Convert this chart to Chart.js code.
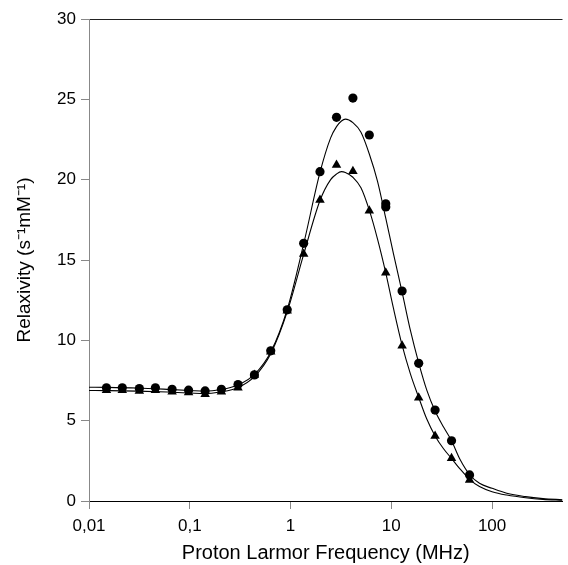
<!DOCTYPE html>
<html>
<head>
<meta charset="utf-8">
<script src="https://cdn.jsdelivr.net/npm/chart.js@4.4.1/dist/chart.umd.min.js"></script>
<style>
html,body{margin:0;padding:0;background:#fff;}
#wrap{width:568px;height:565px;}
</style>
</head>
<body>
<div id="wrap"><canvas id="c" width="568" height="565"></canvas></div>
<script>
// Measured points (frequency in MHz)
const circleFreq = [0.0149, 0.0214, 0.0316, 0.0456, 0.0668, 0.0973, 0.142, 0.206, 0.301, 0.438, 0.636, 0.927, 1.35, 1.96, 2.86, 4.16, 6.05, 8.81, 8.81, 12.8, 18.7, 27.2, 39.6, 59.8];
const circleRelax = [7.05, 7.05, 7.0, 7.05, 6.95, 6.9, 6.85, 6.95, 7.25, 7.85, 9.35, 11.9, 16.04, 20.5, 23.88, 25.08, 22.78, 18.3, 18.5, 13.07, 8.57, 5.66, 3.75, 1.62];
const triangleFreq = [0.0149, 0.0214, 0.0316, 0.0456, 0.0668, 0.0973, 0.142, 0.206, 0.301, 0.438, 0.636, 0.927, 1.35, 1.96, 2.86, 4.16, 6.05, 8.81, 12.8, 18.7, 27.2, 39.6, 59.8];
const triangleRelax = [6.9, 6.9, 6.85, 6.9, 6.8, 6.75, 6.65, 6.8, 7.05, 7.84, 9.29, 11.84, 15.37, 18.73, 20.91, 20.53, 18.07, 14.21, 9.66, 6.43, 4.04, 2.66, 1.31];

// Fitted curves
const fitFreq = [0.01, 0.015, 0.03, 0.06, 0.1, 0.14, 0.2, 0.3, 0.44, 0.64, 0.93, 1.35, 1.96, 2.5, 2.86, 3.2, 3.5, 4.16, 5, 6.05, 7.3, 8.81, 10.5, 12.8, 15.5, 18.7, 22.5, 27.2, 33, 39.6, 48, 59.8, 75, 100, 140, 215, 320, 500];
const fitCircle = [7.08, 7.07, 7.03, 6.95, 6.88, 6.83, 6.92, 7.22, 7.88, 9.3, 11.95, 16.0, 20.45, 22.6, 23.3, 23.65, 23.77, 23.55, 22.95, 21.6, 19.9, 17.6, 15.4, 13.0, 10.6, 8.6, 6.9, 5.6, 4.6, 3.75, 2.6, 1.65, 1.1, 0.79, 0.48, 0.27, 0.15, 0.08];
const fitTriangle = [6.88, 6.87, 6.84, 6.78, 6.72, 6.68, 6.78, 7.05, 7.75, 9.2, 11.8, 15.35, 18.7, 20.0, 20.35, 20.5, 20.45, 20.15, 19.5, 18.1, 16.3, 14.2, 12.0, 9.7, 7.9, 6.45, 5.1, 4.05, 3.25, 2.65, 2.0, 1.35, 0.9, 0.58, 0.37, 0.2, 0.1, 0.05];

const xTickValues = [0.01, 0.1, 1, 10, 100];
const xTickLabels = ['0,01', '0,1', '1', '10', '100'];
const yTickValues = [0, 5, 10, 15, 20, 25, 30];

const pts = (xs, ys) => xs.map((x, i) => ({x: x, y: ys[i]}));
const FONT = 'Liberation Sans, Arial, Helvetica, sans-serif';

new Chart(document.getElementById('c'), {
  type: 'scatter',
  data: {
    datasets: [
      {data: pts(fitFreq, fitCircle), showLine: true, borderColor: '#000', borderWidth: 1.1, pointRadius: 0, cubicInterpolationMode: 'monotone', fill: false, order: 3},
      {data: pts(fitFreq, fitTriangle), showLine: true, borderColor: '#000', borderWidth: 1.1, pointRadius: 0, cubicInterpolationMode: 'monotone', fill: false, order: 3},
      {data: pts(triangleFreq, triangleRelax), showLine: false, pointStyle: 'triangle', pointRadius: 5.5, backgroundColor: '#000', borderColor: '#000', borderWidth: 0, order: 2},
      {data: pts(circleFreq, circleRelax), showLine: false, pointStyle: 'circle', pointRadius: 4.6, backgroundColor: '#000', borderColor: '#000', borderWidth: 0, order: 1}
    ]
  },
  options: {
    responsive: false,
    animation: false,
    events: [],
    layout: {padding: {top: 19, right: 0, left: 0, bottom: 0}},
    plugins: {legend: {display: false}, tooltip: {enabled: false}},
    scales: {
      x: {
        type: 'logarithmic',
        min: 0.01,
        max: 500,
        afterBuildTicks: s => { s.ticks = xTickValues.map(v => ({value: v})); },
        afterFit: s => { s.height = 64; },
        ticks: {
          autoSkip: false,
          maxRotation: 0,
          padding: 7,
          color: '#000',
          font: {family: FONT, size: 17},
          callback: function(v) { const i = xTickValues.indexOf(v); return i >= 0 ? xTickLabels[i] : ''; }
        },
        grid: {drawOnChartArea: false, drawTicks: true, tickLength: 8, tickColor: '#888'},
        border: {display: true, color: '#000', width: 1},
        title: {display: true, text: 'Proton Larmor Frequency (MHz)', color: '#000', font: {family: FONT, size: 20}, padding: {top: 0, bottom: 0}}
      },
      y: {
        min: 0,
        max: 30,
        afterBuildTicks: s => { s.ticks = yTickValues.map(v => ({value: v})); },
        afterFit: s => { s.width = 89; },
        ticks: {color: '#000', padding: 5, font: {family: FONT, size: 17}},
        grid: {
          drawOnChartArea: true,
          drawTicks: true,
          tickLength: 8,
          tickColor: '#888',
          color: ctx => (ctx.tick && ctx.tick.value === 30) ? '#222' : 'rgba(0,0,0,0)'
        },
        border: {display: true, color: '#888', width: 1},
        title: {display: true, text: 'Relaxivity (s⁻¹mM⁻¹)', color: '#000', font: {family: FONT, size: 19}, padding: {top: 13, bottom: 0}}
      }
    }
  }
});
</script>
</body>
</html>
